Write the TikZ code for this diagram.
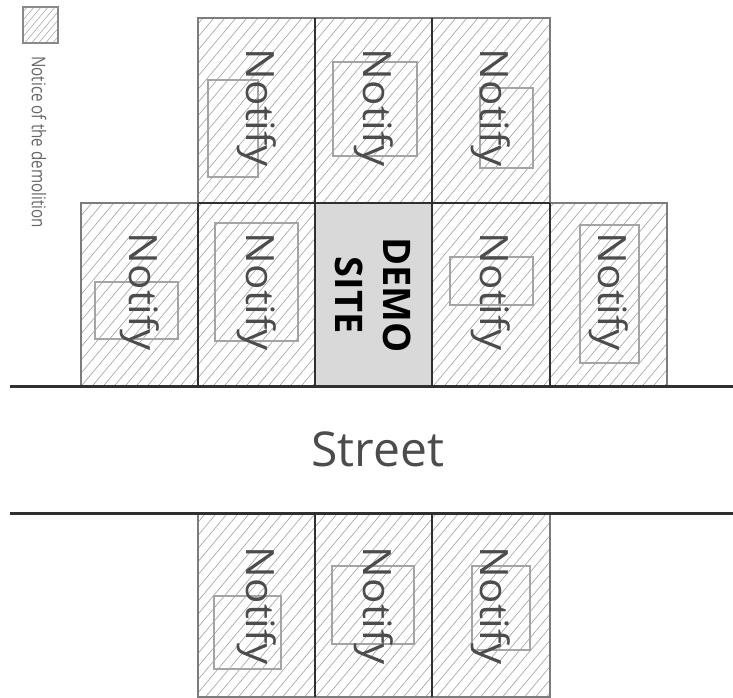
\documentclass[tikz,border=0pt]{standalone}
\usepackage{fontspec}
\setmainfont{Open Sans}
\definecolor{hatchc}{HTML}{A0A0A0}
\definecolor{outerc}{HTML}{7C7C7C}
\definecolor{darkc}{HTML}{303030}
\definecolor{innerc}{HTML}{A4A4A4}
\definecolor{textc}{HTML}{4C4C4C}
\definecolor{democ}{HTML}{D9D9D9}
\tikzset{
  hatchline/.style={draw=hatchc, line width=0.6pt},
  outerbox/.style={draw=outerc, line width=1.6pt},
  divider/.style={draw=darkc, line width=1.8pt},
  innerbox/.style={draw=innerc, line width=1.4pt},
  streetline/.style={draw=darkc, line width=3pt},
  notify/.style={rotate=-90, text=textc, font=\fontsize{39}{39}\selectfont, inner sep=0pt},
  demolabel/.style={rotate=-90, text=black, font=\bfseries\fontsize{38}{48}\selectfont, align=center, inner sep=0pt},
  streetlabel/.style={text=textc, font=\fontsize{48}{48}\selectfont, inner sep=0pt},
  legendlabel/.style={rotate=-90, text=textc!85, font=\fontsize{19}{19}\selectfont, inner sep=0pt}
}
\begin{document}
\begin{tikzpicture}[x=1pt,y=-1pt]
\useasboundingbox (0,0) rectangle (733,698);
% demo site fill
\fill[democ] (315,203) rectangle (432,386);
% hatching of the notified lots
\begin{scope}
\clip (198,18) rectangle (550,203)
      (81,203) rectangle (315,386)
      (432,203) rectangle (667,386)
      (198,513) rectangle (550,697);
\foreach \a in {-600,-589,...,750} \draw[hatchline] (\a,700) -- ++(587,-700);
\end{scope}
% legend square
\begin{scope}
\clip (23,7) rectangle (58,43);
\foreach \a in {-40,-33,...,80} \draw[hatchline, line width=0.5pt] (\a,45) -- ++(38,-45);
\end{scope}
\draw[outerbox, draw=outerc!90, line width=2.4pt] (23,7) rectangle (58,43);
\node[legendlabel] (legend) at (39,142) {\scalebox{0.8}[1]{Notice of the demolition}};
% inner rectangles
\draw[innerbox] (208,80) rectangle (258,177);
\draw[innerbox] (333,62) rectangle (417,156);
\draw[innerbox] (480,88) rectangle (533,168);
\draw[innerbox] (95,282) rectangle (178,339);
\draw[innerbox] (215,223) rectangle (298,341);
\draw[innerbox] (450,257) rectangle (533,305);
\draw[innerbox] (580,225) rectangle (639,363);
\draw[innerbox] (214,596) rectangle (281,669);
\draw[innerbox] (332,566) rectangle (414,644);
\draw[innerbox] (472,566) rectangle (530,650);
% lot outlines
\draw[outerbox] (198,18) rectangle (550,203);
\draw[outerbox] (81,203) rectangle (198,386);
\draw[outerbox] (550,203) rectangle (667,386);
\draw[outerbox] (198,513) rectangle (550,697);
\draw[divider] (315,18) -- (315,203);
\draw[divider] (432,18) -- (432,203);
\draw[divider] (198,203) -- (550,203);
\foreach \x in {198,315,432,550} \draw[divider] (\x,203) -- (\x,386);
\draw[divider] (315,513) -- (315,697);
\draw[divider] (432,513) -- (432,697);
% street
\draw[streetline] (10,386) -- (733,386);
\draw[streetline] (10,513) -- (733,513);
\node[streetlabel] (street) at (378,449) {Street};
% labels
\node[notify] (t1) at (256.5,108) {\scalebox{1.08}[1]{Notify}};
\node[notify] (t2) at (373.5,108) {\scalebox{1.08}[1]{Notify}};
\node[notify] (t3) at (491,108) {\scalebox{1.08}[1]{Notify}};
\node[notify] (m1) at (139.5,292) {\scalebox{1.08}[1]{Notify}};
\node[notify] (m2) at (256.5,292) {\scalebox{1.08}[1]{Notify}};
\node[demolabel] (demo) at (373,295) {DEMO\\SITE};
\node[notify] (m4) at (491,292) {\scalebox{1.08}[1]{Notify}};
\node[notify] (m5) at (608.5,292) {\scalebox{1.08}[1]{Notify}};
\node[notify] (b1) at (256.5,606) {\scalebox{1.08}[1]{Notify}};
\node[notify] (b2) at (373.5,606) {\scalebox{1.08}[1]{Notify}};
\node[notify] (b3) at (491,606) {\scalebox{1.08}[1]{Notify}};
\end{tikzpicture}
\end{document}
